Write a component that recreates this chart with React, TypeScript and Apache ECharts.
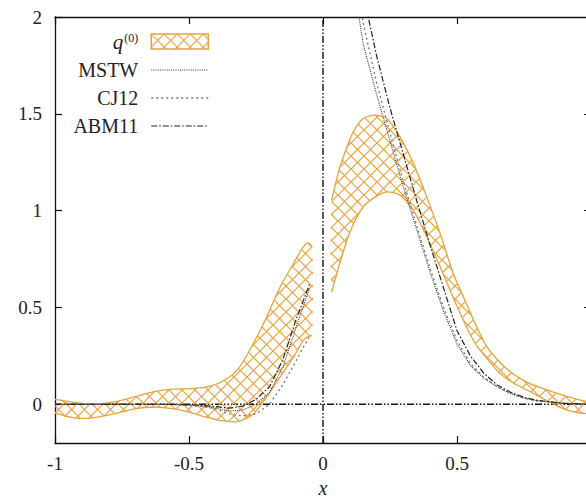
import React, { useEffect, useRef } from "react";
import * as echarts from "echarts";

// ---- data ----
const xTicks = [-1, -0.5, 0, 0.5, 1];
const yTicks = [0, 0.5, 1, 1.5, 2];

// q^(0) band, left segment
const bandLeftX = [-1, -0.93, -0.86, -0.78, -0.7, -0.63, -0.56, -0.5, -0.44, -0.38, -0.32, -0.26, -0.21, -0.16, -0.11, -0.075, -0.055, -0.04];
const bandLeftUpper = [0.025, 0.01, 0.0, 0.012, 0.04, 0.065, 0.078, 0.08, 0.088, 0.115, 0.176, 0.314, 0.451, 0.606, 0.727, 0.81, 0.834, 0.81];
const bandLeftLower = [-0.045, -0.07, -0.07, -0.05, -0.022, -0.014, -0.022, -0.04, -0.065, -0.084, -0.09, -0.05, 0.038, 0.141, 0.244, 0.328, 0.35, 0.355];

// q^(0) band, right segment
const bandRightX = [0.032, 0.063, 0.09, 0.113, 0.15, 0.194, 0.238, 0.287, 0.337, 0.387, 0.437, 0.486, 0.53, 0.57, 0.61, 0.66, 0.71, 0.77, 0.83, 0.9, 0.96, 1.0];
const bandRightUpper = [1.054, 1.226, 1.33, 1.407, 1.476, 1.493, 1.476, 1.381, 1.244, 1.071, 0.882, 0.675, 0.535, 0.41, 0.3, 0.217, 0.156, 0.108, 0.077, 0.045, 0.022, 0.012];
const bandRightLower = [0.58, 0.73, 0.85, 0.93, 1.02, 1.07, 1.097, 1.08, 1.003, 0.865, 0.71, 0.55, 0.415, 0.31, 0.24, 0.16, 0.11, 0.067, 0.023, -0.025, -0.045, -0.05];

// PDF curves
const curveLeftX = [-1, -0.8, -0.6, -0.5, -0.45, -0.4, -0.35, -0.3, -0.25, -0.2, -0.15, -0.1, -0.075, -0.05];
const mstwLeft = [0, 0, 0, -0.004, -0.01, -0.02, -0.035, -0.03, 0.0, 0.06, 0.19, 0.4, 0.5, 0.6];
const cj12Left = [0, 0, 0, -0.005, -0.012, -0.025, -0.05, -0.06, -0.05, 0.0, 0.1, 0.225, 0.29, 0.35];
const abm11Left = [0, 0, 0, -0.002, -0.006, -0.012, -0.02, -0.01, 0.025, 0.09, 0.23, 0.44, 0.53, 0.62];

const curveRightX = [0.05, 0.1, 0.15, 0.2, 0.25, 0.3, 0.35, 0.4, 0.45, 0.5, 0.55, 0.6, 0.65, 0.7, 0.75, 0.8, 0.9, 1.0];
const mstwRight = [2.9, 2.3, 1.86, 1.6, 1.36, 1.12, 0.9, 0.68, 0.48, 0.31, 0.2, 0.135, 0.09, 0.055, 0.032, 0.018, 0.004, 0];
const cj12Right = [3.2, 2.45, 1.97, 1.66, 1.4, 1.15, 0.92, 0.7, 0.5, 0.33, 0.21, 0.14, 0.09, 0.055, 0.032, 0.017, 0.004, 0];
const abm11Right = [3.4, 2.65, 2.12, 1.8, 1.53, 1.29, 1.05, 0.82, 0.6, 0.38, 0.25, 0.16, 0.1, 0.062, 0.036, 0.02, 0.005, 0];

// zero reference lines
const zeroLineH = [[-1, 0], [1, 0]];
const zeroLineV = [[0, -0.2], [0, 2]];

const ORANGE = "#E9A23B";
const FONT = "Liberation Serif";
const FS = 19;

const MSTW_STYLE = { color: "#333", width: 1.1, type: [1, 1.2] };
const CJ12_STYLE = { color: "#777", width: 1.3, type: [2, 3] };
const ABM_STYLE = { color: "#222", width: 1.2, type: [6, 2, 1.5, 2] };
const NO_SYMBOL = { color: "rgba(0,0,0,0)", borderColor: "rgba(0,0,0,0)", borderWidth: 0 };

function zip(xs: number[], ys: number[]) {
  return xs.map((x, i) => [x, ys[i]]);
}

function makeHatch() {
  const c = document.createElement("canvas");
  const s = 13;
  c.width = s;
  c.height = s;
  const ctx = c.getContext("2d")!;
  ctx.strokeStyle = ORANGE;
  ctx.lineWidth = 1.2;
  ctx.beginPath();
  ctx.moveTo(-1, -1);
  ctx.lineTo(s + 1, s + 1);
  ctx.moveTo(s + 1, -1);
  ctx.lineTo(-1, s + 1);
  ctx.stroke();
  return c;
}

export default function App() {
  const ref = useRef<HTMLDivElement>(null);
  useEffect(() => {
    if (!ref.current) return;
    const chart = echarts.init(ref.current, null, { renderer: "svg" });
    const hatch = makeHatch();
    const pattern: any = { image: hatch, repeat: "repeat" };
    const segments = [
      { x: bandLeftX, upper: bandLeftUpper, lower: bandLeftLower },
      { x: bandRightX, upper: bandRightUpper, lower: bandRightLower },
    ];

    const lineSeries = (name: string, data: number[][], style: any) => ({
      name,
      type: "line",
      data,
      symbol: "none",
      showSymbol: false,
      clip: true,
      lineStyle: style,
      itemStyle: { color: style.color },
      z: 3,
    });

    const axisCommon = {
      type: "value",
      axisLine: { show: true, onZero: false, lineStyle: { color: "#111", width: 1.3 } },
      axisTick: { show: true, inside: true, length: 7, lineStyle: { color: "#111", width: 1.2 } },
      splitLine: { show: false },
    };

    chart.setOption({
      animation: false,
      backgroundColor: "#fff",
      textStyle: { fontFamily: FONT },
      grid: { left: 55, top: 17, right: -5, bottom: 56, containLabel: false, outerBoundsMode: "none" },
      legend: {
        orient: "vertical",
        align: "right",
        right: 372,
        top: 26,
        itemWidth: 57,
        itemHeight: 15,
        itemGap: 8,
        selectedMode: false,
        data: [
          { name: "q0", icon: "rect", itemStyle: { color: pattern, borderColor: ORANGE, borderWidth: 1.5 } },
          { name: "MSTW", itemStyle: NO_SYMBOL, lineStyle: MSTW_STYLE },
          { name: "CJ12", itemStyle: NO_SYMBOL, lineStyle: CJ12_STYLE },
          { name: "ABM11", itemStyle: NO_SYMBOL, lineStyle: ABM_STYLE },
        ],
        formatter: (name: string) => (name === "q0" ? "{q|q}{s|(0)}" : name),
        textStyle: {
          fontFamily: FONT,
          fontSize: 20,
          lineHeight: 20,
          color: "#222",
          padding: [0, 8, 0, 0],
          rich: {
            q: { fontFamily: FONT, fontSize: 21, lineHeight: 20, fontStyle: "italic", color: "#222" },
            s: { fontFamily: FONT, fontSize: 12, lineHeight: 12, color: "#222", verticalAlign: "top", padding: [0, 0, 8, 1] },
          },
        },
      },
      xAxis: [
        {
          ...axisCommon,
          min: -1,
          max: 1,
          interval: 0.5,
          position: "bottom",
          name: "x",
          nameLocation: "middle",
          nameGap: 35,
          nameTextStyle: { fontFamily: FONT, fontSize: 20, fontStyle: "italic", color: "#222" },
          axisLabel: {
            show: true,
            margin: 11,
            fontFamily: FONT,
            fontSize: FS,
            color: "#222",
            showMaxLabel: false,
            customValues: xTicks,
            formatter: (v: number) => String(v),
          },
          axisTick: { ...axisCommon.axisTick, customValues: xTicks },
        },
        {
          ...axisCommon,
          min: -1,
          max: 1,
          interval: 0.5,
          position: "top",
          axisLabel: { show: false },
          axisTick: { ...axisCommon.axisTick, customValues: xTicks },
        },
      ],
      yAxis: [
        {
          ...axisCommon,
          min: -0.2,
          max: 2,
          position: "left",
          axisLabel: {
            show: true,
            margin: 13,
            fontFamily: FONT,
            fontSize: FS,
            color: "#222",
            customValues: yTicks,
            formatter: (v: number) => String(v),
          },
          axisTick: { ...axisCommon.axisTick, customValues: yTicks },
        },
        {
          ...axisCommon,
          min: -0.2,
          max: 2,
          position: "right",
          axisLabel: { show: false },
          axisTick: { ...axisCommon.axisTick, customValues: yTicks },
        },
      ],
      series: [
        {
          name: "q0",
          type: "custom",
          clip: true,
          itemStyle: { color: pattern, borderColor: ORANGE, borderWidth: 1.5 },
          data: [[-0.5, 0], [0.5, 0]],
          z: 2,
          renderItem: (params: any, api: any) => {
            const seg = segments[params.dataIndex];
            const up = seg.x.map((x, i) => api.coord([x, seg.upper[i]]));
            const lo = seg.x.map((x, i) => api.coord([x, seg.lower[i]]));
            const poly = up.concat(lo.slice().reverse());
            return {
              type: "group",
              children: [
                { type: "polygon", shape: { points: poly, smooth: 0.25 }, style: { fill: pattern, stroke: null } },
                { type: "polyline", shape: { points: up, smooth: 0.25 }, style: { stroke: ORANGE, lineWidth: 1.3, fill: null } },
                { type: "polyline", shape: { points: lo, smooth: 0.25 }, style: { stroke: ORANGE, lineWidth: 1.3, fill: null } },
              ],
            };
          },
        },
        lineSeries("MSTW", zip(curveLeftX, mstwLeft), MSTW_STYLE),
        lineSeries("MSTW", zip(curveRightX, mstwRight), MSTW_STYLE),
        lineSeries("CJ12", zip(curveLeftX, cj12Left), CJ12_STYLE),
        lineSeries("CJ12", zip(curveRightX, cj12Right), CJ12_STYLE),
        lineSeries("ABM11", zip(curveLeftX, abm11Left), ABM_STYLE),
        lineSeries("ABM11", zip(curveRightX, abm11Right), ABM_STYLE),
        {
          name: "zeroH",
          type: "line",
          data: zeroLineH,
          symbol: "none",
          lineStyle: { color: "#111", width: 1.4, type: [7, 2, 1.5, 2, 1.5, 2] },
          z: 1,
        },
        {
          name: "zeroV",
          type: "line",
          data: zeroLineV,
          symbol: "none",
          lineStyle: { color: "#111", width: 1.4, type: [7, 2, 1.5, 2, 1.5, 2] },
          z: 1,
        },
      ],
    });
    return () => chart.dispose();
  }, []);
  return <div ref={ref} style={{ position: "fixed", left: 0, top: 0, width: 586, height: 499 }} />;
}
